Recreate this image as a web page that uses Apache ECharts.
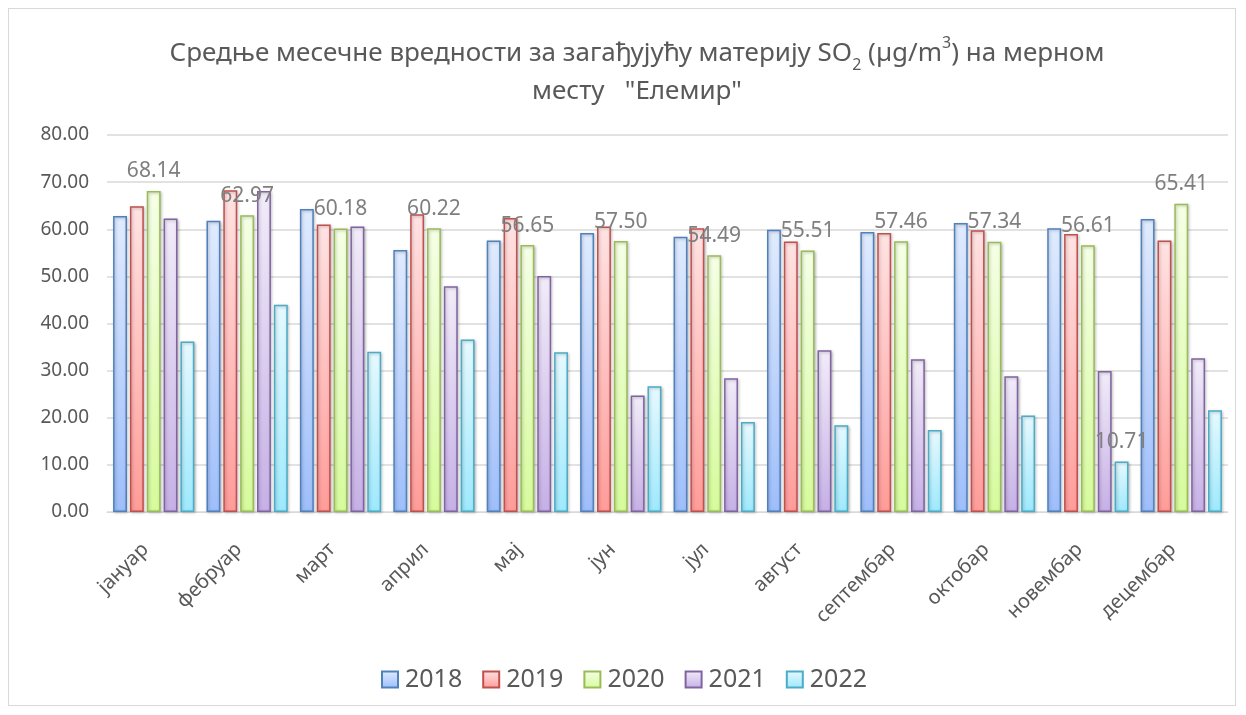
<!DOCTYPE html>
<html><head><meta charset="utf-8">
<script src="https://cdn.jsdelivr.net/npm/echarts@6/dist/echarts.min.js"></script>
<style>
html,body{margin:0;padding:0;background:#fff;}
#frame{position:absolute;left:8px;top:8px;width:1228px;height:698px;border:1px solid #d9d9d9;box-sizing:border-box;}
#c{position:absolute;left:0;top:0;width:1246px;height:715px;}
</style></head>
<body><div id="frame"></div><div id="c"></div>
<script>
const categories = ['јануар','фебруар','март','април','мај','јун','јул','август','септембар','октобар','новембар','децембар'];
const years = ['2018','2019','2020','2021','2022'];
const v2018 = [62.8, 61.8, 64.3, 55.6, 57.6, 59.2, 58.4, 59.9, 59.4, 61.3, 60.2, 62.2];
const v2019 = [64.9, 68.3, 61.0, 63.2, 62.4, 60.6, 60.2, 57.4, 59.2, 59.8, 59.0, 57.6];
const v2020 = [68.14, 62.97, 60.18, 60.22, 56.65, 57.50, 54.49, 55.51, 57.46, 57.34, 56.61, 65.41];
const v2021 = [62.3, 68.1, 60.6, 47.9, 50.1, 24.7, 28.4, 34.3, 32.4, 28.8, 29.9, 32.6];
const v2022 = [36.2, 44.0, 34.0, 36.6, 33.9, 26.7, 19.1, 18.4, 17.4, 20.5, 10.71, 21.6];
const yTicks = [0,10,20,30,40,50,60,70,80];

const styles = [
  {border:'#4f81bd', top:'#e0ebfe', bottom:'#9ebefb'},
  {border:'#c0504d', top:'#ffe3e3', bottom:'#ff9c99'},
  {border:'#9bbb59', top:'#f5ffe6', bottom:'#d6fb9c'},
  {border:'#8064a2', top:'#f2ecf9', bottom:'#c6b0e6'},
  {border:'#4bacc6', top:'#e6f9ff', bottom:'#9ee9fd'}
];
const seriesValues = [v2018, v2019, v2020, v2021, v2022];
const font = 'Noto Sans';
const labelStyle = {show:true, position:'top', distance:9, color:'#7f7f7f', fontSize:21, fontFamily:font, formatter:p=>Number(p.value).toFixed(2)};

const series = years.map((y,i)=>{
  const st = styles[i];
  let data = seriesValues[i].slice();
  if (i===4) {
    data = data.map((v,k)=> k===10 ? {value:v, label:labelStyle} : v);
  }
  return {
    name:y, type:'bar', data:data,
    barGap:'21%', barCategoryGap:'13%',
    itemStyle:{
      color:{type:'linear',x:0,y:0,x2:0,y2:1,colorStops:[{offset:0,color:st.top},{offset:1,color:st.bottom}]},
      borderColor:st.border, borderWidth:1.5,
      shadowColor:'rgba(0,0,0,0.25)', shadowBlur:3, shadowOffsetX:1, shadowOffsetY:1
    },
    label: i===2 ? labelStyle : {show:false},
    z: i===4 ? 3 : 2
  };
});

const tStyle = {fontSize:26, color:'#595959', fontFamily:font, fontWeight:'normal', lineHeight:38};
const chart = echarts.init(document.getElementById('c'), null, {renderer:'canvas'});
chart.setOption({
  animation:false,
  backgroundColor:'transparent',
  title:{
    left:632, top:30, textAlign:'center',
    text:'{t|Средње месечне вредности за загађујућу материју SO}{sub|2}{t| (µg/m}{sup|3}{t|) на мерном}\n{t|месту   "Елемир"}',
    textStyle:{
      fontWeight:'normal', fontFamily:font, color:'#595959', fontSize:26,
      rich:{
        t:tStyle,
        sub:{fontSize:16, color:'#595959', fontFamily:font, fontWeight:'normal', verticalAlign:'bottom', padding:[12,0,0,0], lineHeight:38},
        sup:{fontSize:16, color:'#595959', fontFamily:font, fontWeight:'normal', verticalAlign:'top', padding:[0,0,10,0], lineHeight:38}
      }
    }
  },
  legend:{
    bottom:18, left:376, itemWidth:16, itemHeight:16, itemGap:20,
    icon:'rect',
    textStyle:{fontSize:25, color:'#595959', fontFamily:font, padding:[0,0,0,2]},
    data:years
  },
  grid:{left:107, right:18, top:135, bottom:203, containLabel:false},
  xAxis:{
    type:'category', data:categories,
    axisLine:{lineStyle:{color:'#d9d9d9', width:1}},
    axisTick:{show:false},
    axisLabel:{rotate:45, fontSize:20, color:'#595959', fontFamily:font, margin:26, padding:[0,12,0,0], interval:0}
  },
  yAxis:{
    type:'value', min:yTicks[0], max:yTicks[yTicks.length-1], interval:yTicks[1]-yTicks[0],
    axisLine:{show:false}, axisTick:{show:false},
    splitLine:{lineStyle:{color:'#d9d9d9', width:1.5}},
    axisLabel:{fontSize:19, color:'#595959', fontFamily:font, margin:18, formatter:v=>v.toFixed(2)}
  },
  series:series
});
</script></body></html>
